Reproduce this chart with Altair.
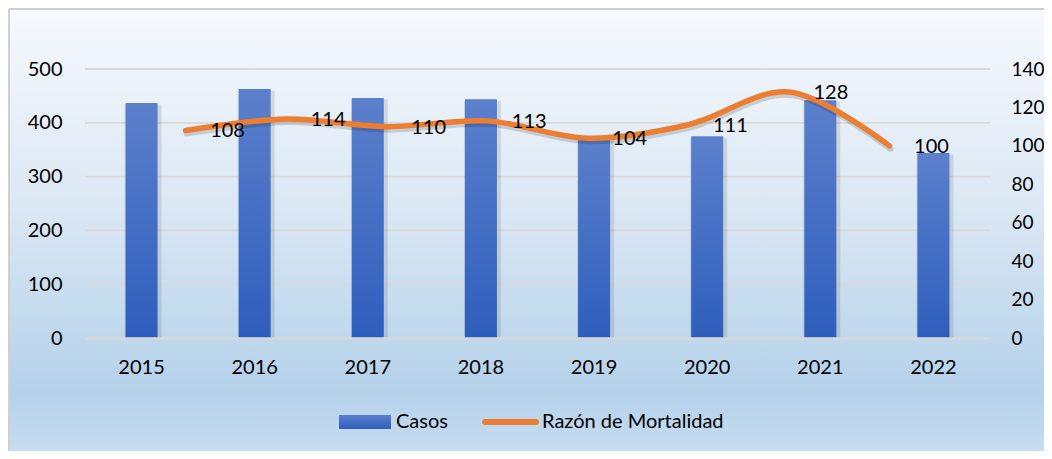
import altair as alt
import pandas as pd

years = ["2015", "2016", "2017", "2018", "2019", "2020", "2021", "2022"]
casos = [437, 463, 446, 444, 370, 375, 442, 344]
razon = [108, 114, 110, 113, 104, 111, 128, 100]
line_pos = [1, 2, 3, 4, 5, 6, 7, 8]
left_ticks = [0, 100, 200, 300, 400, 500]
right_ticks = [0, 20, 40, 60, 80, 100, 120, 140]
legend_labels = ["Casos", "Razón de Mortalidad"]

W, H = 905, 269
FONT = "Lato"
FS = 20
BLUE_TOP = "#5b80cc"
BLUE_BOT = "#2e5ebd"
ORANGE = "#ed7d31"
GRID = "#d9d9d9"

df = pd.DataFrame({"year": years, "casos": casos, "razon": razon, "pos": line_pos})
grid_df = pd.DataFrame({"casos": left_ticks[1:]})
one = pd.DataFrame({"k": [0]})

bar_grad = alt.Gradient(
    gradient="linear",
    stops=[alt.GradientStop(color=BLUE_TOP, offset=0), alt.GradientStop(color=BLUE_BOT, offset=1)],
    x1=0, x2=0, y1=0, y2=1,
)
bg_grad = alt.Gradient(
    gradient="linear",
    stops=[
        alt.GradientStop(color="#f6f9fd", offset=0),
        alt.GradientStop(color="#dae7f4", offset=0.45),
        alt.GradientStop(color="#b4d1ea", offset=0.85),
        alt.GradientStop(color="#c9def1", offset=1),
    ],
    x1=0, x2=0, y1=0, y2=1,
)

# background and frame
bg = alt.Chart(one).mark_rect(fill=bg_grad).encode(
    x=alt.value(-75), x2=alt.value(970), y=alt.value(-59), y2=alt.value(390)
)
frame_left = alt.Chart(one).mark_rule(color="#d0d0d0", strokeWidth=2).encode(
    x=alt.value(-76), y=alt.value(-60), y2=alt.value(390)
)
frame_top = alt.Chart(one).mark_rule(color="#d0d0d0", strokeWidth=2).encode(
    x=alt.value(-76), x2=alt.value(970), y=alt.value(-60)
)

# bars with left axis
x_bar = alt.X(
    "year:N",
    scale=alt.Scale(paddingInner=0, paddingOuter=0),
    axis=alt.Axis(title=None, labelAngle=0, ticks=False, domainColor=GRID, domainWidth=2.5,
                  labelPadding=19, zindex=1),
)
y_bar = alt.Y(
    "casos:Q",
    scale=alt.Scale(domain=[0, 500], nice=False),
    axis=alt.Axis(title=None, values=left_ticks, grid=False, domain=False, ticks=False,
                  labelPadding=23, zindex=1),
)
gridlines = alt.Chart(grid_df).mark_rule(color=GRID, strokeWidth=1.8).encode(
    y=y_bar, x=alt.value(0), x2=alt.value(W),
)
bar_shadow = alt.Chart(df).mark_bar(size=37, color="#000000", opacity=0.10, xOffset=1.5, yOffset=1.5).encode(
    x=x_bar, y=y_bar
)
bars = alt.Chart(df).mark_bar(size=32, color=bar_grad).encode(x=x_bar, y=y_bar)
bar_layer = alt.layer(gridlines, bar_shadow, bars)

# line with right axis
x_line = alt.X("pos:Q", scale=alt.Scale(domain=[0, 9], nice=False, zero=False), axis=None)
y_line = alt.Y(
    "razon:Q",
    scale=alt.Scale(domain=[0, 140], nice=False),
    axis=alt.Axis(title=None, orient="right", values=right_ticks, grid=False, domain=False,
                  ticks=False, labelPadding=21, labelFontSize=19, zindex=1),
)
line_shadow = alt.Chart(df).mark_line(
    interpolate="catmull-rom", color="#000000", opacity=0.15, strokeWidth=6,
    strokeCap="round", xOffset=1, yOffset=3,
).encode(x=x_line, y=y_line)
line = alt.Chart(df).mark_line(
    interpolate="catmull-rom", color=ORANGE, strokeWidth=5.5, strokeCap="round"
).encode(x=x_line, y=y_line)
labels = alt.Chart(df).mark_text(
    dx=42, dy=1, font=FONT, fontSize=FS, color="#000000", align="center", baseline="middle"
).encode(x=x_line, y=y_line, text="razon:Q")
line_layer = alt.layer(line_shadow, line, labels)

# legend
leg_rect = alt.Chart(one).mark_rect(fill=bar_grad).encode(
    x=alt.value(254), x2=alt.value(306), y=alt.value(346), y2=alt.value(360)
)
leg_rule = alt.Chart(one).mark_rule(color=ORANGE, strokeWidth=6, strokeCap="round").encode(
    x=alt.value(400), x2=alt.value(451), y=alt.value(353)
)
leg_t1 = alt.Chart(pd.DataFrame({"t": [legend_labels[0]]})).mark_text(
    font=FONT, fontSize=FS, color="#000000", align="left", baseline="middle"
).encode(x=alt.value(311), y=alt.value(353), text="t:N")
leg_t2 = alt.Chart(pd.DataFrame({"t": [legend_labels[1]]})).mark_text(
    font=FONT, fontSize=FS, color="#000000", align="left", baseline="middle"
).encode(x=alt.value(457), y=alt.value(353), text="t:N")

chart = alt.layer(
    bg, frame_left, frame_top, bar_layer, line_layer, leg_rect, leg_rule, leg_t1, leg_t2
).resolve_scale(x="independent", y="independent").properties(
    width=W, height=H,
    padding={"left": 77, "top": 61, "right": 54, "bottom": 113},
    autosize=alt.AutoSizeParams(type="none"),
).configure_axis(
    labelFont=FONT, labelFontSize=FS, labelColor="#000000"
).configure_view(stroke=None)

chart.save("out.html", embed_options={"renderer": "svg", "actions": False})
